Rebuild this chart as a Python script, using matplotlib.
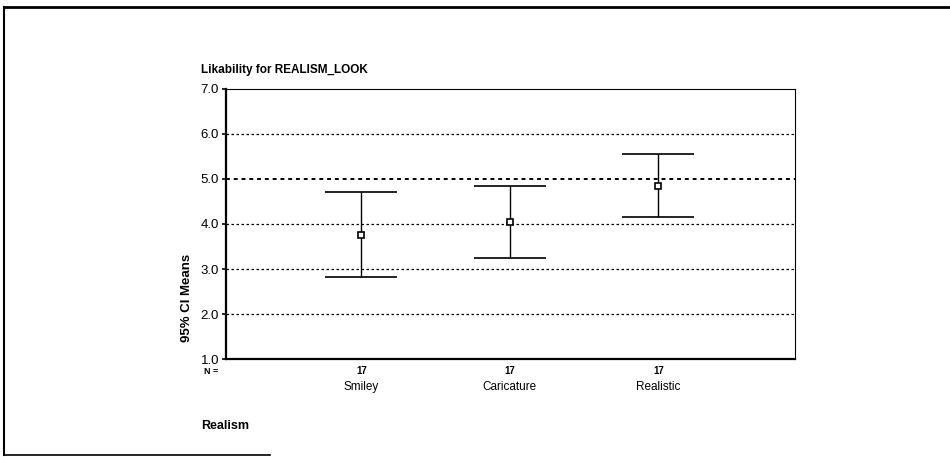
import matplotlib.pyplot as plt
from matplotlib.lines import Line2D

# dados
groups = ['Smiley', 'Caricature', 'Realistic']
n_counts = [17, 17, 17]
means = [3.76, 4.04, 4.85]
upper = [4.70, 4.84, 5.55]
lower = [2.83, 3.24, 4.15]
y_ticks = [1.0, 2.0, 3.0, 4.0, 5.0, 6.0, 7.0]

plt.rcParams['font.family'] = ['Liberation Sans', 'DejaVu Sans']

fig = plt.figure(figsize=(9.5, 4.57), dpi=100)
ax = fig.add_axes([0.238, 0.2144, 0.599, 0.5909])

x = [1, 2, 3]
err_low = [m - l for m, l in zip(means, lower)]
err_up = [u - m for m, u in zip(means, upper)]
ax.errorbar(x, means, yerr=[err_low, err_up], fmt='s', color='black',
            ecolor='black', elinewidth=1.0, capsize=26, capthick=1.2,
            markersize=4, markerfacecolor='white', markeredgecolor='black',
            markeredgewidth=1.2, zorder=3)

ax.set_xlim(0.09, 3.92)
ax.set_ylim(1.0, 7.0)
ax.set_yticks(y_ticks)
ax.set_yticklabels([f'{v:.1f}' for v in y_ticks], fontsize=9.5)
ax.set_xticks([])

# linhas de grade pontilhadas
for v in y_ticks[1:-1]:
    lw = 1.4 if v == 5.0 else 0.9
    ax.axhline(v, color='black', linestyle=(0, (2, 2)), linewidth=lw, zorder=1)

for side in ['left', 'bottom']:
    ax.spines[side].set_linewidth(1.6)
for side in ['top', 'right']:
    ax.spines[side].set_linewidth(0.8)
ax.tick_params(axis='y', direction='out', length=3, width=1.2, pad=2)

# contagens N e rótulos das categorias
trans = ax.get_xaxis_transform()
ax.text(-0.038, -0.045, 'N =', transform=ax.transAxes, fontsize=6.5,
        fontweight='bold', ha='left', va='center')
for xi, n, g in zip(x, n_counts, groups):
    ax.text(xi, -0.045, str(n), transform=trans, fontsize=7,
            fontweight='bold', ha='center', va='center')
    ax.text(xi, -0.105, g, transform=trans, fontsize=8.5,
            ha='center', va='center')

fig.text(201 / 950, 1 - 70 / 457, 'Likability for REALISM_LOOK', fontsize=8.5,
         fontweight='semibold', ha='left', va='center')
fig.text(187 / 950, 1 - 298 / 457, '95% CI Means', fontsize=9.5,
         fontweight='bold', rotation=90, ha='center', va='center')
fig.text(201 / 950, 1 - 426 / 457, 'Realism', fontsize=9,
         fontweight='bold', ha='left', va='center')

# moldura externa
fig.add_artist(Line2D([4 / 950, 1.0], [1 - 7 / 457, 1 - 7 / 457],
                      transform=fig.transFigure, color='black', linewidth=2))
fig.add_artist(Line2D([4 / 950, 4 / 950], [1 - 7 / 457, 1 - 455 / 457],
                      transform=fig.transFigure, color='black', linewidth=1.5))
fig.add_artist(Line2D([4 / 950, 270 / 950], [1 - 455 / 457, 1 - 455 / 457],
                      transform=fig.transFigure, color='black', linewidth=1.2))

fig.savefig('out.png', dpi=100)
